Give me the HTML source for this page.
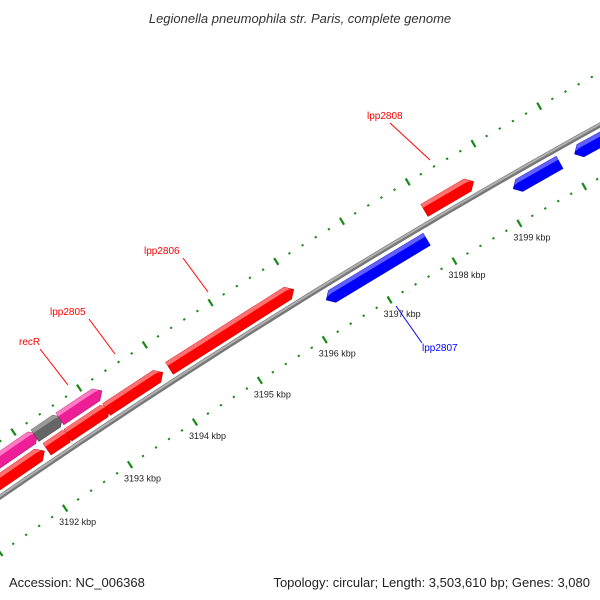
<!DOCTYPE html>
<html><head><meta charset="utf-8"><style>
body{margin:0;background:#fff}
svg{display:block;font-family:"Liberation Sans",sans-serif}
</style></head><body>
<svg id="map" width="600" height="600" viewBox="0 0 600 600">
<text x="300" y="23" text-anchor="middle" font-size="13" font-style="italic" fill="#333">Legionella pneumophila str. Paris, complete genome</text>
<g id="ticks"></g>
<g id="backbone"></g>
<g id="genes"></g>
<g id="labels"></g>
<text x="9" y="587" font-size="13" fill="#222">Accession: NC_006368</text>
<text x="590" y="587" text-anchor="end" font-size="13" fill="#222">Topology: circular; Length: 3,503,610 bp; Genes: 3,080</text>
</svg>
<script>
const geneStarts=[3190.5,3192.23,3192.55,3193.14,3194.1,3198.0,3190.5,3192.2,3192.58,3196.29,3199.16,3200.1];
const geneEnds=[3192.19,3192.61,3193.19,3194.0,3196.0,3198.75,3192.24,3192.62,3193.22,3197.83,3199.87,3201.5];
const geneLanes=[1,1,1,1,1,1,2,2,2,-1,-1,-1];
const geneColors=["red","red","red","red","red","red","pink","grey","pink","blue","blue","blue"];
const geneNames=["gene-a","gene-b","gene-c","gene-d","lpp2806","lpp2808","gene-pink","gene-grey","recR","lpp2807","gene-blue-2","gene-blue-3"];
const tickStart=3190, tickEnd=3202, tickStep=0.2;
const tickLabels=["3192 kbp","3193 kbp","3194 kbp","3195 kbp","3196 kbp","3197 kbp","3198 kbp","3199 kbp"];
const tickLabelKbp=[3192,3193,3194,3195,3196,3197,3198,3199];

const NS="http://www.w3.org/2000/svg";
const A=-0.6875,B=0.0001125;
function yb(x){return 497+A*x+B*x*x;}
function P(k,d){const bx=39.3+65.3*(k-3192);const s=A+2*B*bx;const n=Math.sqrt(1+s*s);return [bx+d*s/n,yb(bx)-d/n];}
function mk(tag,attrs,parent){const e=document.createElementNS(NS,tag);for(const k in attrs)e.setAttribute(k,attrs[k]);parent.appendChild(e);return e;}
const pal={red:["#ff0000","#ff7070","#c00000"],pink:["#ee1f96","#ff7cc4","#b0106c"],grey:["#666666","#9a9a9a","#444444"],blue:["#0000ff","#6060ff","#0000b0"]};

// ticks
const tg=document.getElementById('ticks');
for(let i=0;tickStart+i*tickStep<=tickEnd;i++){
  const k=tickStart+i*tickStep;const major=Math.abs(k-Math.round(k))<1e-6;
  [-46,46].forEach(d=>{
    const h=major?4:1;const p1=P(k,d-h),p2=P(k,d+h);
    const l=mk('line',{x1:p1[0],y1:p1[1],x2:p2[0],y2:p2[1],stroke:"#178a17","stroke-width":major?2.2:2.2},tg);
    
    
  });
}
tickLabelKbp.forEach((k,i)=>{
  const p=P(k,-46);
  const t=mk('text',{x:p[0]-6,y:p[1]+17,"font-size":"9",fill:"#222"},tg);
  t.textContent=tickLabels[i];
  
  
});

// backbone
const bg=document.getElementById('backbone');
let pts=[];for(let x=-20;x<=620;x+=10)pts.push(x+","+yb(x));
let bl=mk('polyline',{points:pts.join(" "),fill:"none",stroke:"#777","stroke-width":5},bg);


pts=[];for(let x=-20;x<=620;x+=10)pts.push(x+","+(yb(x)-1));
bl=mk('polyline',{points:pts.join(" "),fill:"none",stroke:"#b0b0b0","stroke-width":2},bg);



// genes
const gg=document.getElementById('genes');
function poly(arr){return arr.map(p=>p[0].toFixed(1)+","+p[1].toFixed(1)).join(" ");}
geneStarts.forEach((k0,i)=>{
  const k1=geneEnds[i];const lane=geneLanes[i];
  const c=lane===1?13:lane===2?31:-13;const h=7;const al=0.09;
  const fwd=lane>0;const col=pal[geneColors[i]];
  let shape;
  if(fwd){shape=[P(k0,c-h),P(k1-al,c-h),P(k1,c),P(k1-al,c+h),P(k0,c+h)];}
  else{shape=[P(k0,c),P(k0+al,c-h),P(k1,c-h),P(k1,c+h),P(k0+al,c+h)];}
  const g=mk('g',{},gg);
  
  
  mk('polygon',{points:poly(shape),fill:col[0],stroke:col[2],"stroke-width":0.6},g);
  let top;
  if(fwd){top=[P(k0,c+3),P(k1-al,c+3),P(k1-0.03,c+2),P(k1-al,c+h),P(k0,c+h)];}
  else{top=[P(k0+0.03,c+2),P(k0+al,c+3),P(k1,c+3),P(k1,c+h),P(k0+al,c+h)];}
  mk('polygon',{points:poly(top),fill:col[1]},g);
});

// labels
const lg=document.getElementById('labels');
const labs=[["lpp2808",367,119,390,123,430,160,"red"],["lpp2806",144,254,183,258,208,292,"red"],["lpp2805",50,315,89,319,115,354,"red"],["recR",19,345,40,349,68,385,"red"],["lpp2807",422,351,422,343,396,306,"blue"]];
labs.forEach(L=>{
  const t=mk('text',{x:L[1],y:L[2],"font-size":"10",fill:L[7]},lg);
  t.textContent=L[0];
  
  
  const l=mk('line',{x1:L[3],y1:L[4],x2:L[5],y2:L[6],stroke:L[7],"stroke-width":1},lg);
  
  
});
</script>
</body></html>
